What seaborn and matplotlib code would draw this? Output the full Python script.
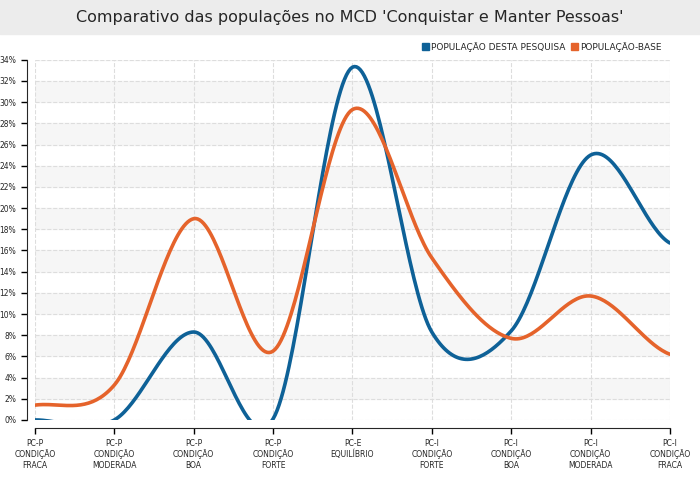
import numpy as np
import pandas as pd
import seaborn as sns
from matplotlib import pyplot as plt
from matplotlib.patches import Rectangle

categories = ["PC-P\nCONDIÇÃO\nFRACA", "PC-P\nCONDIÇÃO\nMODERADA", "PC-P\nCONDIÇÃO\nBOA",
              "PC-P\nCONDIÇÃO\nFORTE", "PC-E\nEQUILÍBRIO", "PC-I\nCONDIÇÃO\nFORTE",
              "PC-I\nCONDIÇÃO\nBOA", "PC-I\nCONDIÇÃO\nMODERADA", "PC-I\nCONDIÇÃO\nFRACA"]
pesquisa = [0.0, 0.0, 8.3, 0.1, 33.3, 8.3, 8.4, 25.0, 16.7]
base = [1.4, 3.3, 19.0, 6.5, 29.3, 15.3, 7.7, 11.7, 6.2]
series_names = ["POPULAÇÃO DESTA PESQUISA", "POPULAÇÃO-BASE"]
colors = ["#0e6197", "#e5632b"]


def smooth(y, n=40):
    # catmull-rom curve through the points, only for drawing
    y = np.asarray(y, float)
    p = np.concatenate([[y[0]], y, [y[-1]]])
    xs, ys = [], []
    for i in range(len(y) - 1):
        t = np.linspace(0, 1, n, endpoint=False)
        p0, p1, p2, p3 = p[i], p[i + 1], p[i + 2], p[i + 3]
        ys.append(0.5 * (2 * p1 + (-p0 + p2) * t + (2 * p0 - 5 * p1 + 4 * p2 - p3) * t**2
                         + (-p0 + 3 * p1 - 3 * p2 + p3) * t**3))
        xs.append(i + t)
    xs.append([len(y) - 1]); ys.append([y[-1]])
    return np.concatenate(xs), np.concatenate(ys)


rows = []
for name, vals in zip(series_names, [pesquisa, base]):
    sx, sy = smooth(vals)
    rows.append(pd.DataFrame({"x": sx, "y": sy, "serie": name}))
df = pd.concat(rows)

sns.set_style("white")
plt.rcParams['font.family'] = ['DejaVu Sans']
fig = plt.figure(figsize=(7, 4.9), dpi=100)
fig.patches.append(Rectangle((0, 0.93), 1, 0.07, transform=fig.transFigure,
                             color="#ececec", zorder=0))
fig.text(0.5, 0.965, "Comparativo das populações no MCD 'Conquistar e Manter Pessoas'",
         ha="center", va="center", fontsize=11.5)
ax = fig.add_axes([0.05, 0.143, 0.907, 0.735])

for k in range(0, 34, 4):
    ax.axhspan(k + 2, k + 4, color="#f6f6f6", zorder=0)
sns.lineplot(data=df, x="x", y="y", hue="serie", palette=colors, linewidth=2.6,
             sort=False, estimator=None, legend=False, ax=ax)

ax.set_xlim(0, len(categories) - 1)
ax.set_ylim(0, 34)
ax.set_yticks(range(0, 35, 2), labels=[f"{v}%" for v in range(0, 35, 2)])
ax.set_xticks(range(len(categories)), labels=categories)
ax.tick_params(axis="both", labelsize=5.5, length=4, width=1, color="black",
               bottom=True, left=True)
for lab in ax.get_xticklabels():
    lab.set_horizontalalignment("left")
    lab.set_linespacing(2.2)
ax.grid(True, color="#dddddd", linestyle="--", linewidth=0.8)
ax.set_axisbelow(True)
for s in ["top", "right"]:
    ax.spines[s].set_visible(False)
ax.spines["left"].set_position(("outward", 6))
ax.spines["bottom"].set_position(("outward", 6))
ax.set_xlabel("")
ax.set_ylabel("NÚMERO DE RESPONDENTES", fontsize=5.5)

handles = [Rectangle((0, 0), 1, 1, color=c) for c in colors]
ax.legend(handles, series_names, loc="lower right", bbox_to_anchor=(1.0, 1.0), ncol=2,
          frameon=False, fontsize=6.5, handlelength=0.7, handleheight=0.9,
          handletextpad=0.3, columnspacing=0.6)

fig.savefig("out.png", dpi=100)
